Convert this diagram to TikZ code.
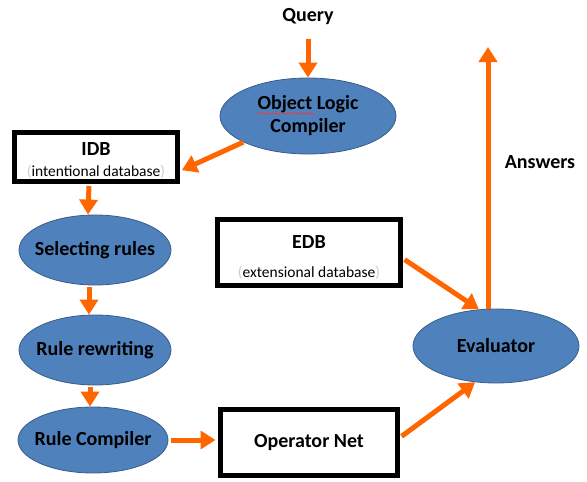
\documentclass[tikz,border=0pt]{standalone}
\usepackage{fontspec}
\setmainfont{Carlito}
\usetikzlibrary{arrows.meta,shapes.geometric,decorations.pathmorphing}
\definecolor{floworange}{HTML}{FF6600}
\definecolor{procfill}{HTML}{4F81BD}
\definecolor{procline}{HTML}{385D8A}
\definecolor{parengray}{HTML}{CFCFCF}
\newcommand{\subtxt}[1]{{\fontsize{15.5}{17}\mdseries\textcolor{parengray}{(}#1\textcolor{parengray}{)}}}
\begin{document}
\begin{tikzpicture}[x=1pt,y=-1pt,
  % negative inner sep keeps the ellipse at its set size around wide text
  proc/.style={ellipse, fill=procfill, draw=procline, line width=0.8pt,
    inner xsep=-30pt, inner ysep=-15pt, align=center,
    font=\fontsize{20}{23}\selectfont\bfseries},
  store/.style={rectangle, draw=black, line width=5pt, fill=white,
    inner sep=0pt, align=center, font=\fontsize{20}{21}\selectfont\bfseries},
  flow/.style={draw=floworange, line width=5pt, -{Triangle[width=18pt,length=15pt]}},
  lbl/.style={font=\fontsize{20}{23}\selectfont\bfseries},
]
\useasboundingbox (0,0) rectangle (587,482);

% processing stages
\node[lbl] (query) at (308,17) {Query};
\node[proc, minimum width=176pt, minimum height=76pt] (olc) at (308,116) {Object Logic\\Compiler};
\node[proc, minimum width=152pt, minimum height=70pt] (sel) at (95,250) {Selecting rules};
\node[proc, minimum width=152pt, minimum height=70pt] (rrw) at (95,350) {Rule rewriting};
\node[proc, minimum width=150pt, minimum height=66pt] (rc) at (93,440) {Rule Compiler};
\node[proc, minimum width=166pt, minimum height=74pt] (eval) at (496,346) {Evaluator};

% data stores (the strut lowers the two-line text a little)
\node[store, minimum width=163pt, minimum height=49pt] (idb) at (96,157)
  {\rule{0pt}{21pt}IDB\\\subtxt{intentional database}};
\node[store, minimum width=183pt, minimum height=66pt] (edb) at (309,252.5)
  {\rule{0pt}{24pt}EDB\\[8pt]\subtxt{extensional database}};
\node[store, minimum width=177pt, minimum height=66pt] (opnet) at (309,442.5) {Operator Net};

\node[lbl] (answers) at (540,162) {Answers};
\coordinate (out) at (488,47);

% spell-check underline under the compiler name
\draw[red!80!white, line width=0.5pt, decorate,
  decoration={snake, amplitude=0.7pt, segment length=2.6pt}]
  ([xshift=-51pt,yshift=2.5pt]olc.center) -- ([xshift=7pt,yshift=2.5pt]olc.center);

% data flow
\draw[flow] ([yshift=-10pt]query.south) -- (olc.north);
\draw[flow, shorten >=2pt] (olc.202) -- ([yshift=-14pt]idb.east);
\draw[flow, shorten <=2pt] ([xshift=-7pt]idb.south) -- ([xshift=-7pt]sel.north);
\draw[flow, shorten <=2pt] ([xshift=-6pt]sel.south) -- ([xshift=-6pt]rrw.north);
\draw[flow, shorten <=2pt] ([xshift=-5pt]rrw.south) -- ([xshift=-3pt]rc.north);
\draw[flow, shorten <=3pt, shorten >=2.5pt] (rc.east) -- (rc.east -| opnet.west);
\draw[flow, shorten <=2pt] ([yshift=5pt]opnet.east) -- (eval.240);
\draw[flow, shorten <=2pt] ([yshift=-6pt]edb.east) -- (eval.115);
\draw[flow] ([xshift=-8pt]eval.north) -- (out);
\end{tikzpicture}
\end{document}
